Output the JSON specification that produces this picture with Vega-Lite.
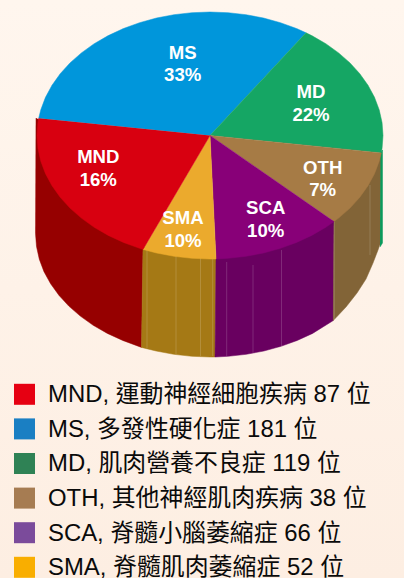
{"$schema":"https://vega.github.io/schema/vega-lite/v6.json","width":404,"height":578,"padding":0,"autosize":{"type":"none"},"background":"#fef3e9","config":{"view":{"stroke":null}},
"datasets":{
"walls":[
{"s":"wMND","i":0,"x":36,"y":118},{"s":"wMND","i":1,"x":35.5,"y":233.5},{"s":"wMND","i":2,"x":36.5,"y":246.4},{"s":"wMND","i":3,"x":39.3,"y":259.2},{"s":"wMND","i":4,"x":44,"y":271.7},{"s":"wMND","i":5,"x":50.6,"y":283.7},{"s":"wMND","i":6,"x":58.9,"y":295.25},{"s":"wMND","i":7,"x":68.8,"y":306.1},{"s":"wMND","i":8,"x":80.3,"y":316.1},{"s":"wMND","i":9,"x":93.2,"y":325.3},{"s":"wMND","i":10,"x":107.4,"y":333.4},{"s":"wMND","i":11,"x":122.75,"y":340.45},{"s":"wMND","i":12,"x":141.5,"y":347.4},{"s":"wMND","i":13,"x":143,"y":249},{"s":"wMND","i":14,"x":100,"y":150},
{"s":"wSMA","i":0,"x":143,"y":249},{"s":"wSMA","i":1,"x":141.5,"y":347.4},{"s":"wSMA","i":2,"x":156.1,"y":351},{"s":"wSMA","i":3,"x":173.7,"y":354.3},{"s":"wSMA","i":4,"x":191.8,"y":356.3},{"s":"wSMA","i":5,"x":210,"y":357},{"s":"wSMA","i":6,"x":215,"y":357},{"s":"wSMA","i":7,"x":216,"y":259},{"s":"wSMA","i":8,"x":180,"y":200},
{"s":"wSCA","i":0,"x":216,"y":259},{"s":"wSCA","i":1,"x":215,"y":357},{"s":"wSCA","i":2,"x":228.2,"y":356.3},{"s":"wSCA","i":3,"x":246.3,"y":354.3},{"s":"wSCA","i":4,"x":263.9,"y":351},{"s":"wSCA","i":5,"x":281,"y":346.3},{"s":"wSCA","i":6,"x":297.25,"y":340.45},{"s":"wSCA","i":7,"x":312.6,"y":333.4},{"s":"wSCA","i":8,"x":333.3,"y":320.5},{"s":"wSCA","i":9,"x":334,"y":221.6},{"s":"wSCA","i":10,"x":280,"y":200},
{"s":"wOTH","i":0,"x":334,"y":221.6},{"s":"wOTH","i":1,"x":333.3,"y":320.5},{"s":"wOTH","i":2,"x":346,"y":307},{"s":"wOTH","i":3,"x":357,"y":293},{"s":"wOTH","i":4,"x":366,"y":279},{"s":"wOTH","i":5,"x":373,"y":263},{"s":"wOTH","i":6,"x":378,"y":250},{"s":"wOTH","i":7,"x":380.5,"y":243},{"s":"wOTH","i":8,"x":381,"y":153},{"s":"wOTH","i":9,"x":340,"y":170},
{"s":"wMD","i":0,"x":380.5,"y":153},{"s":"wMD","i":1,"x":382.5,"y":150},{"s":"wMD","i":2,"x":382.5,"y":243},{"s":"wMD","i":3,"x":380,"y":247}
],
"tops":[
{"s":"MS","i":0,"x":210,"y":135.5},{"s":"MS","i":1,"x":38.7,"y":118.3},{"s":"MS","i":2,"x":40.8,"y":109.8},{"s":"MS","i":3,"x":45.5,"y":97.3},{"s":"MS","i":4,"x":52,"y":85.3},{"s":"MS","i":5,"x":60.2,"y":73.75},{"s":"MS","i":6,"x":70,"y":62.9},{"s":"MS","i":7,"x":81.4,"y":52.9},{"s":"MS","i":8,"x":94.2,"y":43.7},{"s":"MS","i":9,"x":108.3,"y":35.6},{"s":"MS","i":10,"x":123.5,"y":28.5},{"s":"MS","i":11,"x":139.6,"y":22.7},{"s":"MS","i":12,"x":156.5,"y":18},{"s":"MS","i":13,"x":174,"y":14.7},{"s":"MS","i":14,"x":191.9,"y":12.7},{"s":"MS","i":15,"x":210,"y":12},{"s":"MS","i":16,"x":228.1,"y":12.7},{"s":"MS","i":17,"x":246,"y":14.7},{"s":"MS","i":18,"x":263.5,"y":18},{"s":"MS","i":19,"x":280.4,"y":22.7},{"s":"MS","i":20,"x":296.5,"y":28.5},{"s":"MS","i":21,"x":306,"y":32.8},
{"s":"MD","i":0,"x":210,"y":135.5},{"s":"MD","i":1,"x":306,"y":32.8},{"s":"MD","i":2,"x":311.7,"y":35.6},{"s":"MD","i":3,"x":325.8,"y":43.7},{"s":"MD","i":4,"x":338.6,"y":52.9},{"s":"MD","i":5,"x":350,"y":62.9},{"s":"MD","i":6,"x":359.8,"y":73.75},{"s":"MD","i":7,"x":368,"y":85.3},{"s":"MD","i":8,"x":374.5,"y":97.3},{"s":"MD","i":9,"x":379.2,"y":109.8},{"s":"MD","i":10,"x":382.05,"y":122.6},{"s":"MD","i":11,"x":383,"y":135.5},{"s":"MD","i":12,"x":382.05,"y":148.4},{"s":"MD","i":13,"x":381.3,"y":152.9},
{"s":"OTH","i":0,"x":210,"y":135.5},{"s":"OTH","i":1,"x":381.3,"y":152.9},{"s":"OTH","i":2,"x":379.2,"y":161.2},{"s":"OTH","i":3,"x":374.5,"y":173.7},{"s":"OTH","i":4,"x":368,"y":185.7},{"s":"OTH","i":5,"x":359.8,"y":197.25},{"s":"OTH","i":6,"x":350,"y":208.1},{"s":"OTH","i":7,"x":338.6,"y":218.1},{"s":"OTH","i":8,"x":334,"y":221.6},
{"s":"SCA","i":0,"x":210,"y":135.5},{"s":"SCA","i":1,"x":334,"y":221.6},{"s":"SCA","i":2,"x":325.8,"y":227.3},{"s":"SCA","i":3,"x":311.7,"y":235.4},{"s":"SCA","i":4,"x":296.5,"y":242.45},{"s":"SCA","i":5,"x":280.4,"y":248.3},{"s":"SCA","i":6,"x":263.5,"y":253},{"s":"SCA","i":7,"x":246,"y":256.3},{"s":"SCA","i":8,"x":228.1,"y":258.3},{"s":"SCA","i":9,"x":216,"y":258.9},
{"s":"SMA","i":0,"x":210,"y":135.5},{"s":"SMA","i":1,"x":216,"y":258.9},{"s":"SMA","i":2,"x":210,"y":259},{"s":"SMA","i":3,"x":191.9,"y":258.3},{"s":"SMA","i":4,"x":174,"y":256.3},{"s":"SMA","i":5,"x":156.5,"y":253},{"s":"SMA","i":6,"x":143,"y":249.4},
{"s":"MND","i":0,"x":210,"y":135.5},{"s":"MND","i":1,"x":143,"y":249.4},{"s":"MND","i":2,"x":139.6,"y":248.3},{"s":"MND","i":3,"x":123.5,"y":242.45},{"s":"MND","i":4,"x":108.3,"y":235.4},{"s":"MND","i":5,"x":94.2,"y":227.3},{"s":"MND","i":6,"x":81.4,"y":218.1},{"s":"MND","i":7,"x":70,"y":208.1},{"s":"MND","i":8,"x":60.2,"y":197.25},{"s":"MND","i":9,"x":52,"y":185.7},{"s":"MND","i":10,"x":45.5,"y":173.7},{"s":"MND","i":11,"x":40.8,"y":161.2},{"s":"MND","i":12,"x":37.95,"y":148.4},{"s":"MND","i":13,"x":37,"y":135.5},{"s":"MND","i":14,"x":37.95,"y":122.6},{"s":"MND","i":15,"x":38.7,"y":118.3}
],
"streaks":[
{"x":147,"y":250,"y2":348},{"x":176,"y":254,"y2":354},{"x":200.5,"y":258,"y2":356},{"x":212.7,"y":259,"y2":356},{"x":226.7,"y":262,"y2":356},{"x":253,"y":265,"y2":353},{"x":281.5,"y":250,"y2":346},{"x":334.3,"y":222,"y2":320},{"x":370,"y":185,"y2":255}
],
"labels":[
{"t":"MS","p":"33%","x":182.7,"y1":51.7,"y2":74},{"t":"MD","p":"22%","x":311,"y1":90.7,"y2":113.3},{"t":"OTH","p":"7%","x":322.7,"y1":166.7,"y2":189},{"t":"SCA","p":"10%","x":265.7,"y1":206.7,"y2":229.3},{"t":"SMA","p":"10%","x":183,"y1":216.7,"y2":240},{"t":"MND","p":"16%","x":98.3,"y1":155.7,"y2":178.3}
],
"legend":[
{"name":"MND, 運動神經細胞疾病 87 位","k":"MND"},{"name":"MS, 多發性硬化症 181 位","k":"MS"},{"name":"MD, 肌肉營養不良症 119 位","k":"MD"},{"name":"OTH, 其他神經肌肉疾病 38 位","k":"OTH"},{"name":"SCA, 脊髓小腦萎縮症 66 位","k":"SCA"},{"name":"SMA, 脊髓肌肉萎縮症 52 位","k":"SMA"}
]},
"resolve":{"scale":{"x":"independent","y":"independent","color":"independent","fill":"independent","stroke":"independent"}},
"layer":[
{"data":{"values":[{"a":0,"b":404,"c":0,"d":578}]},"mark":{"type":"rect","fill":{"gradient":"linear","x1":0,"y1":0,"x2":0,"y2":1,"stops":[{"offset":0,"color":"#fff6ee"},{"offset":1,"color":"#fdeee2"}]}},
"encoding":{"x":{"field":"a","type":"quantitative","scale":{"domain":[0,404],"range":[0,404]},"axis":null},"x2":{"field":"b"},"y":{"field":"c","type":"quantitative","scale":{"domain":[0,578],"range":[0,578]},"axis":null},"y2":{"field":"d"}}},
{"data":{"name":"walls"},"mark":{"type":"line","strokeWidth":0.5,"strokeJoin":"round"},
"encoding":{"x":{"field":"x","type":"quantitative","scale":{"domain":[0,404],"range":[0,404]},"axis":null},"y":{"field":"y","type":"quantitative","scale":{"domain":[0,578],"range":[0,578]},"axis":null},"order":{"field":"i"},
"fill":{"field":"s","type":"nominal","legend":null,"scale":{"domain":["wMND","wSMA","wSCA","wOTH","wMD"],"range":["#960000","#a57915","#690060","#826437","#0a9a5c"]}},
"stroke":{"field":"s","type":"nominal","legend":null,"scale":{"domain":["wMND","wSMA","wSCA","wOTH","wMD"],"range":["#960000","#a57915","#690060","#826437","#0a9a5c"]}}}},
{"data":{"name":"streaks"},"mark":{"type":"rule","color":"#ffffff","opacity":0.16,"strokeWidth":1},
"encoding":{"x":{"field":"x","type":"quantitative","scale":{"domain":[0,404],"range":[0,404]},"axis":null},"y":{"field":"y","type":"quantitative","scale":{"domain":[0,578],"range":[0,578]},"axis":null},"y2":{"field":"y2"}}},
{"data":{"name":"tops"},"mark":{"type":"line","strokeWidth":0.5,"strokeJoin":"round"},
"encoding":{"x":{"field":"x","type":"quantitative","scale":{"domain":[0,404],"range":[0,404]},"axis":null},"y":{"field":"y","type":"quantitative","scale":{"domain":[0,578],"range":[0,578]},"axis":null},"order":{"field":"i"},
"fill":{"field":"s","type":"nominal","legend":null,"scale":{"domain":["MND","MS","MD","OTH","SCA","SMA"],"range":["#d80010","#0096db","#15a664","#a67b45","#880078","#ebaa2d"]}},
"stroke":{"field":"s","type":"nominal","legend":null,"scale":{"domain":["MND","MS","MD","OTH","SCA","SMA"],"range":["#d80010","#0096db","#15a664","#a67b45","#880078","#ebaa2d"]}}}},
{"data":{"name":"labels"},"mark":{"type":"text","font":"Liberation Sans","fontWeight":"bold","fontSize":18.6,"color":"#ffffff","align":"center","baseline":"middle","dy":1.2},
"encoding":{"x":{"field":"x","type":"quantitative","scale":{"domain":[0,404],"range":[0,404]},"axis":null},"y":{"field":"y1","type":"quantitative","scale":{"domain":[0,578],"range":[0,578]},"axis":null},"text":{"field":"t"}}},
{"data":{"name":"labels"},"mark":{"type":"text","font":"Liberation Sans","fontWeight":"bold","fontSize":18.6,"color":"#ffffff","align":"center","baseline":"middle","dy":1.2},
"encoding":{"x":{"field":"x","type":"quantitative","scale":{"domain":[0,404],"range":[0,404]},"axis":null},"y":{"field":"y2","type":"quantitative","scale":{"domain":[0,578],"range":[0,578]},"axis":null},"text":{"field":"p"}}},
{"data":{"name":"legend"},"mark":{"type":"point","shape":"square","filled":true,"size":441,"opacity":1,"strokeWidth":0},
"encoding":{"x":{"datum":24.5,"type":"quantitative","scale":{"domain":[0,404],"range":[0,404]},"axis":null},"y":{"field":"name","type":"nominal","sort":null,"scale":{"type":"point","padding":0,"range":[394.3,567.3]},"axis":null},
"fill":{"field":"k","type":"nominal","legend":null,"sort":null,"scale":{"domain":["MND","MS","MD","OTH","SCA","SMA"],"range":["#e60012","#1a7fc3","#2f8255","#a67c52","#7b4b9b","#f9ae00"]}}}},
{"data":{"name":"legend"},"mark":{"type":"text","font":"Liberation Sans, Noto Sans CJK TC","fontSize":23.9,"color":"#0a0a0a","align":"left","baseline":"middle","dy":0.8},
"encoding":{"x":{"datum":48,"type":"quantitative","scale":{"domain":[0,404],"range":[0,404]},"axis":null},"y":{"field":"name","type":"nominal","sort":null,"scale":{"type":"point","padding":0,"range":[394.3,567.3]},"axis":null},"text":{"field":"name"}}}
]}
